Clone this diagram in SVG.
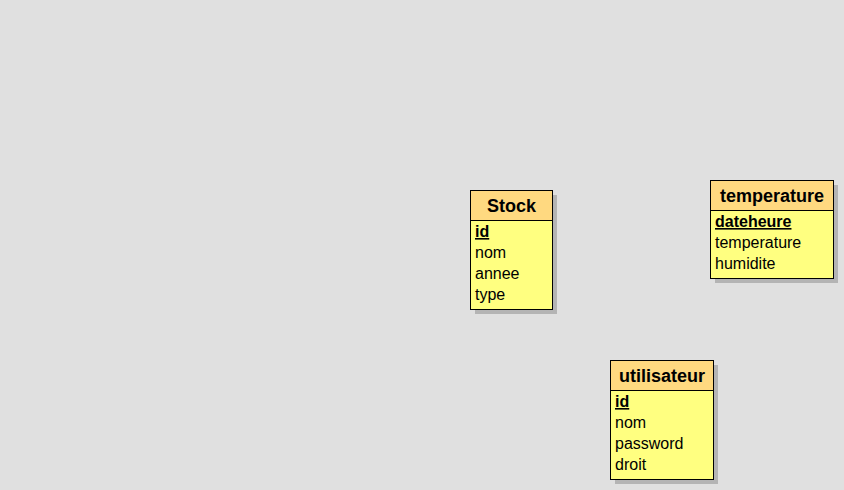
<svg xmlns="http://www.w3.org/2000/svg" width="844" height="490" viewBox="0 0 844 490">
<style>
.shadow{fill:#b4b4b4}
.head{fill:#ffd980;stroke:#000;stroke-width:1}
.body{fill:#ffff80;stroke:#000;stroke-width:1}
.title{font-family:"Liberation Sans",Arial,sans-serif;font-size:18px;font-weight:bold;fill:#000;text-anchor:middle}
.field{font-family:"Liberation Sans",Arial,sans-serif;font-size:16px;fill:#000}
.pk{font-weight:bold;text-decoration:underline}
</style>
<rect width="844" height="490" fill="#e0e0e0"/>
<g id="connectors"/>
<g id="stock">
<rect class="shadow" x="475" y="195" width="82" height="119"/>
<rect class="body" x="470.5" y="190.5" width="82" height="119"/>
<rect class="head" x="470.5" y="190.5" width="82" height="30"/>
<text class="title" x="511.5" y="212">Stock</text>
<text class="field pk" x="475" y="237">id</text>
<text class="field" x="475" y="258">nom</text>
<text class="field" x="475" y="279">annee</text>
<text class="field" x="475" y="300">type</text>
</g>
<g id="temperature">
<rect class="shadow" x="715" y="185" width="123" height="98"/>
<rect class="body" x="710.5" y="180.5" width="123" height="98"/>
<rect class="head" x="710.5" y="180.5" width="123" height="30"/>
<text class="title" x="772" y="202">temperature</text>
<text class="field pk" x="715" y="227">dateheure</text>
<text class="field" x="715" y="248">temperature</text>
<text class="field" x="715" y="269">humidite</text>
</g>
<g id="utilisateur">
<rect class="shadow" x="615" y="365" width="103" height="119"/>
<rect class="body" x="610.5" y="360.5" width="103" height="119"/>
<rect class="head" x="610.5" y="360.5" width="103" height="30"/>
<text class="title" x="662" y="382">utilisateur</text>
<text class="field pk" x="615" y="407">id</text>
<text class="field" x="615" y="428">nom</text>
<text class="field" x="615" y="449">password</text>
<text class="field" x="615" y="470">droit</text>
</g>
</svg>
